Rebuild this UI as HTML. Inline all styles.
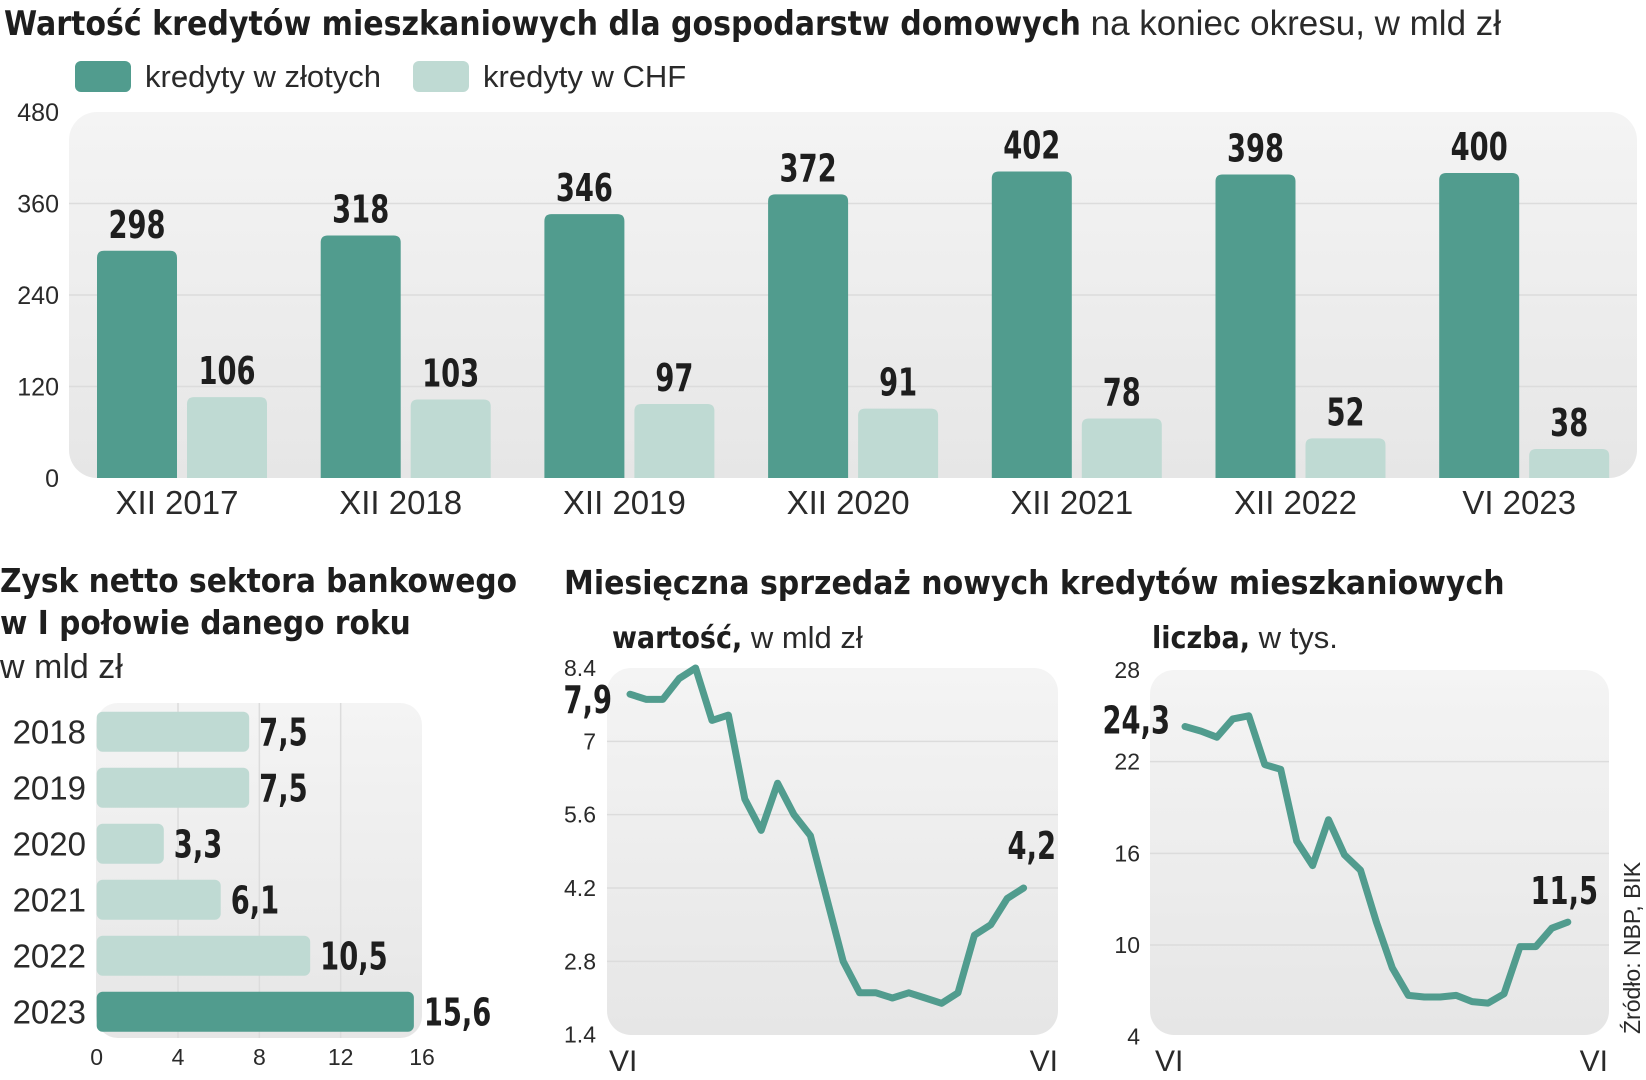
<!DOCTYPE html>
<html><head><meta charset="utf-8"><style>
html,body{margin:0;padding:0;background:#fff;}
svg{display:block;}
.b{font-family:"DejaVu Sans Condensed","DejaVu Sans",sans-serif;font-weight:bold;fill:#1e1e1e;}
.l{font-family:"Liberation Sans",sans-serif;fill:#2a2a2a;}
</style></head><body>
<svg id="c" width="1646" height="1080" viewBox="0 0 1646 1080" xmlns="http://www.w3.org/2000/svg">
<defs>
<linearGradient id="pg" x1="0" y1="0" x2="0" y2="1"><stop offset="0" stop-color="#f4f4f4"/><stop offset="1" stop-color="#e6e6e6"/></linearGradient>
</defs>
<text x="4" y="35"><tspan class="b" font-size="33.4">Wartość kredytów mieszkaniowych dla gospodarstw domowych</tspan><tspan class="l" font-size="35" fill="#333"> na koniec okresu, w mld zł</tspan></text>
<rect x="75" y="61" width="56" height="31" rx="6" fill="#519c8e"/>
<text class="l" x="145" y="87" font-size="31">kredyty w złotych</text>
<rect x="413" y="61" width="56" height="31" rx="6" fill="#bfdad3"/>
<text class="l" x="483" y="87" font-size="31">kredyty w CHF</text>
<rect x="69" y="112" width="1568" height="366" rx="28" fill="url(#pg)"/>
<g id="top"></g>

<text class="b" x="0" y="592" font-size="33">Zysk netto sektora bankowego</text>
<text class="b" x="0" y="634" font-size="33">w I połowie danego roku</text>
<text class="l" x="0" y="678" font-size="34" fill="#333">w mld zł</text>
<rect x="96" y="703" width="326" height="335" rx="22" fill="url(#pg)"/>
<g id="hb"></g>

<text class="b" x="564" y="594" font-size="33.3">Miesięczna sprzedaż nowych kredytów mieszkaniowych</text>
<text x="612" y="648"><tspan class="b" font-size="30">wartość,</tspan><tspan class="l" font-size="31" fill="#333"> w mld zł</tspan></text>
<text x="1152" y="648"><tspan class="b" font-size="30">liczba,</tspan><tspan class="l" font-size="31" fill="#333"> w tys.</tspan></text>
<rect x="607" y="668" width="451" height="367" rx="24" fill="url(#pg)"/>
<rect x="1150" y="670" width="459" height="365" rx="24" fill="url(#pg)"/>
<g id="l1"></g><g id="l2"></g>
<text class="l" x="609" y="1071" font-size="30">VI</text>
<text class="l" x="1058" y="1071" font-size="30" text-anchor="end">VI</text>
<text class="l" x="1155" y="1071" font-size="30">VI</text>
<text class="l" x="1608" y="1071" font-size="30" text-anchor="end">VI</text>
<text class="l" transform="translate(1640,1034) rotate(-90)" font-size="23" fill="#333">Źródło: NBP, BIK</text>
</svg>
<script>
// ---- top bar chart data
const cats = ["XII 2017","XII 2018","XII 2019","XII 2020","XII 2021","XII 2022","VI 2023"];
const plnVals = [298,318,346,372,402,398,400];
const chfVals = [106,103,97,91,78,52,38];
const topTicks = [0,120,240,360,480];
// ---- profit
const years = ["2018","2019","2020","2021","2022","2023"];
const profit = [7.5,7.5,3.3,6.1,10.5,15.6];
const profitTicks = [0,4,8,12,16];
// ---- monthly sales
const valueSeries = [7.9,7.8,7.8,8.2,8.4,7.4,7.5,5.9,5.3,6.2,5.6,5.2,4.0,2.8,2.2,2.2,2.1,2.2,2.1,2.0,2.2,3.3,3.5,4.0,4.2];
const valueTicks = [1.4,2.8,4.2,5.6,7,8.4];
const countSeries = [24.3,24.0,23.6,24.8,25.0,21.8,21.5,16.8,15.2,18.2,15.9,14.9,11.5,8.5,6.7,6.6,6.6,6.7,6.3,6.2,6.8,9.9,9.9,11.1,11.5];
const countTicks = [4,10,16,22,28];

const NS="http://www.w3.org/2000/svg";
function mk(tag,attrs,parent,txt){const e=document.createElementNS(NS,tag);for(const k in attrs)e.setAttribute(k,attrs[k]);if(txt!==undefined)e.textContent=txt;parent.appendChild(e);return e;}
const fmt=v=>String(v).replace('.',',');
function bigText(parent,x,y,str,anchor){
  const g=mk('g',{transform:`translate(${x},${y}) scale(0.8,1)`},parent);
  const t=mk('text',{class:'b','font-size':38,'text-anchor':anchor||'start'},g,str);
  return t;
}
function roundTop(x,y,w,h,r){r=Math.min(r,h/2,w/2);return `M${x},${y+h}V${y+r}Q${x},${y} ${x+r},${y}H${x+w-r}Q${x+w},${y} ${x+w},${y+r}V${y+h}Z`;}

// top chart
(function(){
  const g=document.getElementById('top');
  const y0=478, ppu=366/480;
  const Y=v=>y0-v*ppu;
  const X=i=>97+i*223.7;
  topTicks.forEach(t=>{
    if(t>0&&t<480){const ln=mk('line',{x1:69,x2:1637,y1:Y(t),y2:Y(t),stroke:'#dcdcdc','stroke-width':1.5},g);
    
    }
    const tx=mk('text',{class:'l',x:59,y:Y(t)+9,'font-size':25,'text-anchor':'end',fill:'#333'},g,t);
    
    
  });
  cats.forEach((c,i)=>{
    const x=X(i);
    const p=mk('path',{d:roundTop(x,Y(plnVals[i]),80,plnVals[i]*ppu,7),fill:'#519c8e'},g);
    
    
    const q=mk('path',{d:roundTop(x+90,Y(chfVals[i]),80,chfVals[i]*ppu,7),fill:'#bfdad3'},g);
    
    
    const a=bigText(g,x+40,Y(plnVals[i])-13,fmt(plnVals[i]),'middle');
    
    
    const b=bigText(g,x+130,Y(chfVals[i])-13,fmt(chfVals[i]),'middle');
    
    
    const cl=mk('text',{class:'l',x:x+80,y:514,'font-size':33,'text-anchor':'middle',fill:'#1e1e1e'},g,c);
    
    
  });
})();

// horizontal bars
(function(){
  const g=document.getElementById('hb');
  const x0=96.7, ppu=(422-96.7)/16;
  const X=v=>x0+v*ppu;
  profitTicks.forEach(t=>{
    if(t>0&&t<16){const ln=mk('line',{x1:X(t),x2:X(t),y1:703,y2:1038,stroke:'#dcdcdc','stroke-width':1.5},g);
    
    }
    const tx=mk('text',{class:'l',x:X(t),y:1065,'font-size':23,'text-anchor':'middle',fill:'#333'},g,t);
    
    
  });
  years.forEach((yr,i)=>{
    const cy=731.7+i*56;
    const last=i===years.length-1;
    const r=mk('rect',{x:x0,y:cy-20,width:profit[i]*ppu,height:40,rx:6,fill:last?'#519c8e':'#bfdad3'},g);
    
    
    const yl=mk('text',{class:'l',x:86,y:cy+12,'font-size':33,'text-anchor':'end',fill:'#1e1e1e'},g,yr);
    
    
    const v=bigText(g,X(profit[i])+10,cy+14,fmt(profit[i]));
    
    
  });
})();

function lineChart(id,series,ticks,lo,hi,top,bot,left,right,x0,dx,tickX,nm){
  const g=document.getElementById(id);
  const Y=v=>bot-(v-lo)/(hi-lo)*(bot-top);
  ticks.forEach(t=>{
    if(t>lo&&t<hi){const ln=mk('line',{x1:left,x2:right,y1:Y(t),y2:Y(t),stroke:'#dcdcdc','stroke-width':1.5},g);
    
    }
    const tx=mk('text',{class:'l',x:tickX,y:Y(t)+8,'font-size':23,'text-anchor':'end',fill:'#333'},g,String(t));
    
    
  });
  const pts=series.map((v,i)=>`${(x0+i*dx).toFixed(1)},${Y(v).toFixed(1)}`).join(' ');
  const pl=mk('polyline',{points:pts,fill:'none',stroke:'#519c8e','stroke-width':7,'stroke-linejoin':'round','stroke-linecap':'round'},g);
  
  
  return {g,Y};
}
(function(){
  const a=lineChart('l1',valueSeries,valueTicks,1.4,8.4,668,1034.7,607,1058,630,16.4,596,'value');
  const s=bigText(a.g,612,a.Y(valueSeries[0])+19,fmt(valueSeries[0].toFixed(1)),'end');
  
  
  const n=valueSeries.length-1;
  const e=bigText(a.g,1056,a.Y(valueSeries[n])-29,fmt(valueSeries[n].toFixed(1)),'end');
  
  
  const b=lineChart('l2',countSeries,countTicks,4,28,670,1036.7,1150,1609,1185,15.95,1140,'count');
  const s2=bigText(b.g,1170,b.Y(countSeries[0])+7,fmt(countSeries[0].toFixed(1)),'end');
  
  
  const m=countSeries.length-1;
  const e2=bigText(b.g,1598,b.Y(countSeries[m])-18,fmt(countSeries[m].toFixed(1)),'end');
  
  
})();
</script>
</body></html>
